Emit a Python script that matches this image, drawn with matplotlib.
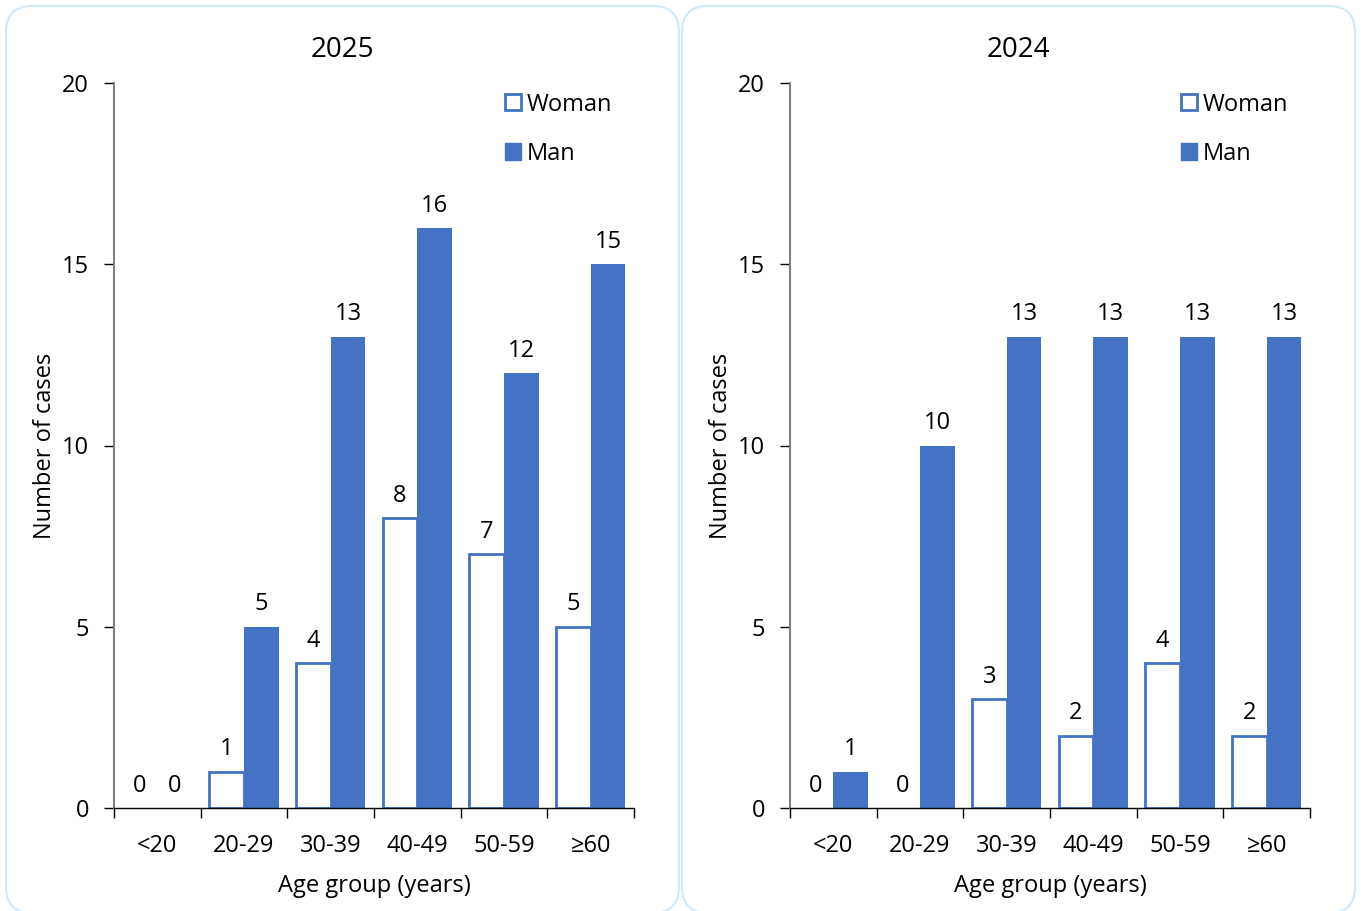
import matplotlib
matplotlib.use("Agg")
import matplotlib.pyplot as plt
import numpy as np
from matplotlib.patches import FancyBboxPatch, Patch
from matplotlib.transforms import IdentityTransform

plt.rcParams['font.family'] = ['Open Sans', 'DejaVu Sans']

categories = ["<20", "20-29", "30-39", "40-49", "50-59", "≥60"]
years = ["2025", "2024"]
woman_2025 = [0, 1, 4, 8, 7, 5]
man_2025 = [0, 5, 13, 16, 12, 15]
woman_2024 = [0, 0, 3, 2, 4, 2]
man_2024 = [1, 10, 13, 13, 13, 13]
series = {"2025": (woman_2025, man_2025), "2024": (woman_2024, man_2024)}

blue = "#4472C4"
W, H = 1362, 911
fig = plt.figure(figsize=(W / 100, H / 100), dpi=100)

panels = ((6, 679), (682, 1355))
# panel frames (pixel coordinates, origin bottom-left)
for x0, x1 in panels:
    box = FancyBboxPatch((x0, H - 913), x1 - x0, 913 - 6,
                         boxstyle="round,pad=0,rounding_size=26",
                         transform=IdentityTransform(), facecolor="none",
                         edgecolor="#cfe9fb", linewidth=1.5, zorder=-1)
    fig.patches.append(box)

fs = 17
axw = 520 / W
axh = (808 - 83) / H
for i, (yr, axleft) in enumerate(zip(years, (114, 790))):
    ax = fig.add_axes([axleft / W, 1 - 808 / H, axw, axh])
    ax.patch.set_alpha(0)
    woman, man = series[yr]
    x = np.arange(len(categories))
    bw = 0.4
    wb = ax.bar(x - bw / 2, woman, bw, facecolor="white", edgecolor=blue, linewidth=2, label="Woman")
    for rect, v in zip(wb, woman):
        if v == 0:
            rect.set_visible(False)
    ax.bar(x + bw / 2, man, bw, facecolor=blue, edgecolor=blue, linewidth=0, label="Man")
    for xi, v in zip(x - bw / 2, woman):
        ax.annotate(str(v), (xi, v), xytext=(0, 7.5), textcoords="offset points",
                    ha="center", va="bottom", fontsize=fs)
    for xi, v in zip(x + bw / 2, man):
        ax.annotate(str(v), (xi, v), xytext=(0, 7.5), textcoords="offset points",
                    ha="center", va="bottom", fontsize=fs)
    ax.set_xlim(-0.5, len(categories) - 0.5)
    ax.set_ylim(0, 20)
    ax.set_yticks([0, 5, 10, 15, 20])
    ax.set_xticks(x)
    ax.set_xticklabels(categories, fontsize=fs)
    ax.set_xticks(np.arange(-0.5, len(categories)), minor=True)
    ax.tick_params(axis="x", which="major", length=0, pad=19)
    ax.tick_params(axis="x", which="minor", length=7, width=1, color="black", direction="out")
    ax.tick_params(axis="y", length=7, width=1, color="black", labelsize=fs, pad=11)
    for s in ("top", "right"):
        ax.spines[s].set_visible(False)
    ax.spines["left"].set_color("#808080")
    ax.spines["left"].set_linewidth(1.5)
    ax.spines["bottom"].set_color("black")
    ax.spines["bottom"].set_linewidth(1)
    ax.set_ylabel("Number of cases", fontsize=fs, labelpad=3.5)
    ax.set_xlabel("Age group (years)", fontsize=fs, labelpad=11.5)
    px0, px1 = panels[i]
    fig.text((px0 + px1) / 2 / W, 1 - 50 / H, yr, fontsize=20, ha="center", va="center")
    handles = [Patch(facecolor="white", edgecolor=blue, linewidth=2, label="Woman"),
               Patch(facecolor=blue, edgecolor=blue, label="Man")]
    ax.legend(handles=handles, loc="upper left", bbox_to_anchor=(0.711, 1.016),
              frameon=False, fontsize=fs, handlelength=0.68, handleheight=0.68,
              handletextpad=0.25, labelspacing=1.06, borderpad=0.4)

fig.savefig("out.png", dpi=100)
